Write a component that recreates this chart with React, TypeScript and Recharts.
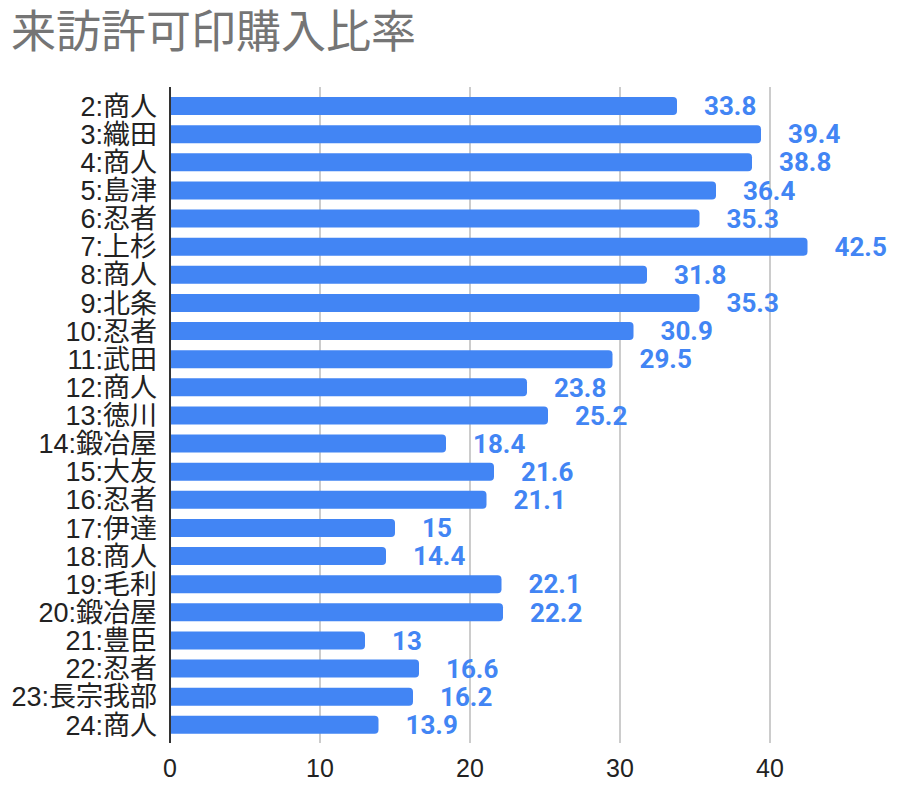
import { BarChart, Bar, XAxis, YAxis, CartesianGrid, LabelList } from 'recharts';

const categories = [
    '2:商人', '3:織田', '4:商人', '5:島津', '6:忍者', '7:上杉', '8:商人', '9:北条',
    '10:忍者', '11:武田', '12:商人', '13:徳川', '14:鍛冶屋', '15:大友', '16:忍者',
    '17:伊達', '18:商人', '19:毛利', '20:鍛冶屋', '21:豊臣', '22:忍者', '23:長宗我部', '24:商人',
];

const ratios = [
    33.8, 39.4, 38.8, 36.4, 35.3, 42.5, 31.8, 35.3, 30.9, 29.5, 23.8, 25.2,
    18.4, 21.6, 21.1, 15, 14.4, 22.1, 22.2, 13, 16.6, 16.2, 13.9,
];

const xTicks = [0, 10, 20, 30, 40];

const data = categories.map((name, i) => ({ name, ratio: ratios[i] }));

const tickFont = "'Liberation Sans', Arial, 'Noto Sans CJK JP', sans-serif";

export default function App() {
    return (
        <div
            style={{
                position: 'absolute',
                left: 0,
                top: 0,
                width: 905,
                height: 792,
                background: '#fff',
            }}
        >
            <div
                style={{
                    position: 'absolute',
                    left: 11,
                    top: 6,
                    fontFamily: "'Noto Sans CJK JP', sans-serif",
                    fontSize: 45,
                    lineHeight: '46px',
                    color: '#757575',
                    whiteSpace: 'nowrap',
                }}
            >
                来訪許可印購入比率
            </div>
            <div style={{ position: 'absolute', left: 0, top: 0 }}>
                <BarChart
                    width={905}
                    height={792}
                    data={data}
                    layout="vertical"
                    margin={{ top: 87, right: 30, left: 0, bottom: 9 }}
                >
                    <CartesianGrid
                        horizontal={false}
                        verticalValues={xTicks.slice(1)}
                        stroke="#cccccc"
                        strokeWidth={2}
                    />
                    <XAxis
                        type="number"
                        domain={[0, 47]}
                        ticks={xTicks}
                        height={40}
                        axisLine={false}
                        tickLine={false}
                        tickSize={0}
                        tickMargin={16}
                        tick={{ fill: '#222', fontSize: 25, fontFamily: tickFont }}
                    />
                    <YAxis
                        type="category"
                        dataKey="name"
                        width={170}
                        interval={0}
                        padding={{ top: 5, bottom: 4 }}
                        axisLine={{ stroke: '#333', strokeWidth: 2 }}
                        tickLine={false}
                        tickSize={0}
                        tickMargin={13}
                        tick={{ fill: '#222', fontSize: 27, fontFamily: tickFont }}
                    />
                    <Bar
                        dataKey="ratio"
                        fill="#4285f4"
                        barSize={18}
                        radius={[0, 4, 4, 0]}
                        isAnimationActive={false}
                    >
                        <LabelList
                            dataKey="ratio"
                            position="right"
                            offset={27}
                            fill="#4285f4"
                            fontSize={26}
                            fontWeight="bold"
                            fontFamily="Roboto, sans-serif"
                        />
                    </Bar>
                </BarChart>
            </div>
        </div>
    );
}
